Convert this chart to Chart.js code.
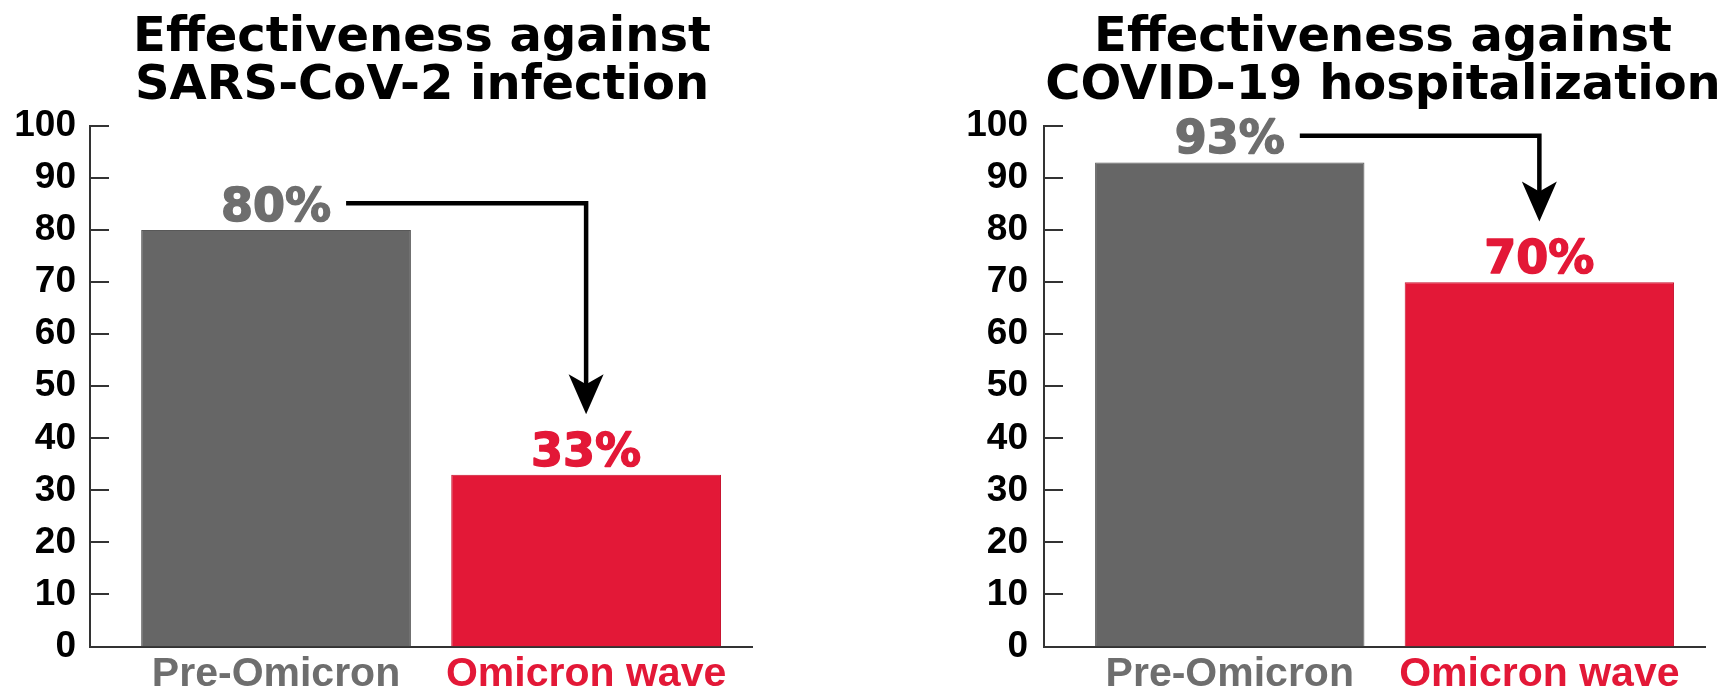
<!DOCTYPE html>
<html>
<head>
<meta charset="utf-8">
<title>Vaccine effectiveness before and during Omicron</title>
<script src="https://cdn.jsdelivr.net/npm/chart.js@4.4.1/dist/chart.umd.min.js"></script>
<style>
  html, body { margin: 0; padding: 0; background: #fff; overflow: hidden; }
  body { width: 1726px; height: 691px; position: relative; }
  .panel { position: absolute; top: 0; }
</style>
</head>
<body>
<div class="panel" style="left:0px"><canvas id="infectionChart" width="844" height="691"></canvas></div>
<div class="panel" style="left:961px"><canvas id="hospitalChart" width="844" height="691"></canvas></div>
<script>
const categories = ["Pre-Omicron", "Omicron wave"];
const infectionValues = [80, 33];
const hospitalizationValues = [93, 70];
const infectionTitle = ["Effectiveness against", "SARS-CoV-2 infection"];
const hospitalizationTitle = ["Effectiveness against", "COVID-19 hospitalization"];
const yMin = 0;
const yMax = 100;
const yStep = 10;

const GREY = "#666666";
const RED = "#e31837";
const barColors = [GREY, RED];
const barEdges = ["#585858", "#c8132f"];
const labelColors = ["#6e6e6e", RED];
const valueFont = { size: 46, family: "'DejaVu Sans'" };

Chart.defaults.font.family = "'Liberation Sans', Arial, sans-serif";
Chart.defaults.animation = false;

// inward y ticks, the % labels over the bars and the arrow between them
const extrasPlugin = {
  id: "extras",
  afterDatasetsDraw(chart) {
    const ctx = chart.ctx;
    const area = chart.chartArea;
    const yScale = chart.scales.y;
    ctx.save();

    ctx.strokeStyle = "#333";
    ctx.lineWidth = 2;
    yScale.ticks.forEach((t) => {
      const py = Math.round(yScale.getPixelForValue(t.value));
      ctx.beginPath();
      ctx.moveTo(area.left, py);
      ctx.lineTo(area.left + 19, py);
      ctx.stroke();
    });

    const meta = chart.getDatasetMeta(0);
    const points = chart.data.datasets[0].data;
    ctx.font = "bold " + valueFont.size + "px " + valueFont.family;
    ctx.textAlign = "center";
    ctx.textBaseline = "alphabetic";
    ctx.lineWidth = 1.5;
    ctx.lineJoin = "round";
    const capH = valueFont.size * 0.73;
    meta.data.forEach((bar, i) => {
      ctx.fillStyle = labelColors[i];
      ctx.strokeStyle = labelColors[i];
      ctx.fillText(points[i].y + "%", bar.x, bar.y - 9);
      ctx.strokeText(points[i].y + "%", bar.x, bar.y - 9);
    });

    // elbow arrow from first label to second
    const from = meta.data[0];
    const to = meta.data[1];
    const w0 = ctx.measureText(points[0].y + "%").width;
    const sx = from.x + w0 / 2 + 15;
    const ly = from.y - 9 - capH / 2 - 1;
    const tipY = to.y - 9 - capH - 18;
    ctx.strokeStyle = "#000";
    ctx.lineWidth = 4.5;
    ctx.lineJoin = "miter";
    ctx.lineCap = "butt";
    ctx.beginPath();
    ctx.moveTo(sx, ly);
    ctx.lineTo(to.x, ly);
    ctx.lineTo(to.x, tipY - 26);
    ctx.stroke();
    ctx.fillStyle = "#000";
    ctx.beginPath();
    ctx.moveTo(to.x, tipY);
    ctx.lineTo(to.x - 17.5, tipY - 40);
    ctx.lineTo(to.x, tipY - 30);
    ctx.lineTo(to.x + 17.5, tipY - 40);
    ctx.closePath();
    ctx.fill();

    ctx.restore();
  },
};

function buildChart(id, title, values, yWidth, yPad, rightWidth) {
  return new Chart(document.getElementById(id), {
    type: "bar",
    data: {
      datasets: [
        {
          data: values.map((v, i) => ({ x: i, y: v })),
          backgroundColor: barColors,
          borderColor: barEdges,
          borderWidth: 1,
          borderSkipped: "bottom",
          categoryPercentage: 1,
          barPercentage: 0.87,
        },
      ],
    },
    options: {
      responsive: false,
      layout: { padding: 0 },
      plugins: {
        legend: { display: false },
        tooltip: { enabled: false },
        title: {
          display: true,
          text: title,
          color: "#000",
          font: { family: "'DejaVu Sans'", size: 48, weight: "bold", lineHeight: 1 },
          padding: { top: 14.5, bottom: 15.5 },
        },
      },
      scales: {
        x: {
          type: "linear",
          offset: false,
          min: -0.6,
          max: 1.535,
          afterBuildTicks: (s) => {
            s.ticks = categories.map((c, i) => ({ value: i }));
          },
          afterFit: (s) => {
            s.height = 44.5;
          },
          grid: { display: false, drawTicks: false },
          border: { display: true, color: "#333", width: 2 },
          ticks: {
            callback: (v) => categories[v],
            color: (c) => labelColors[c.index],
            font: { size: 41, weight: "bold", lineHeight: 1 },
            padding: 7.5,
            autoSkip: false,
            maxRotation: 0,
          },
        },
        y: {
          min: yMin,
          max: yMax,
          afterFit: (s) => {
            s.width = yWidth;
          },
          grid: { display: false, drawTicks: false },
          border: { display: true, color: "#333", width: 2 },
          ticks: {
            stepSize: yStep,
            color: "#000",
            font: { size: 37, weight: "bold" },
            padding: yPad,
          },
        },
        spacer: {
          type: "linear",
          position: "right",
          min: 0,
          max: 1,
          afterFit: (s) => {
            s.width = rightWidth;
          },
          grid: { display: false },
          border: { display: false },
          ticks: { display: false },
        },
      },
    },
    plugins: [extrasPlugin],
  });
}

buildChart("infectionChart", infectionTitle, infectionValues, 90, 14, 92);
buildChart("hospitalChart", hospitalizationTitle, hospitalizationValues, 83, 16, 100);
</script>
</body>
</html>
